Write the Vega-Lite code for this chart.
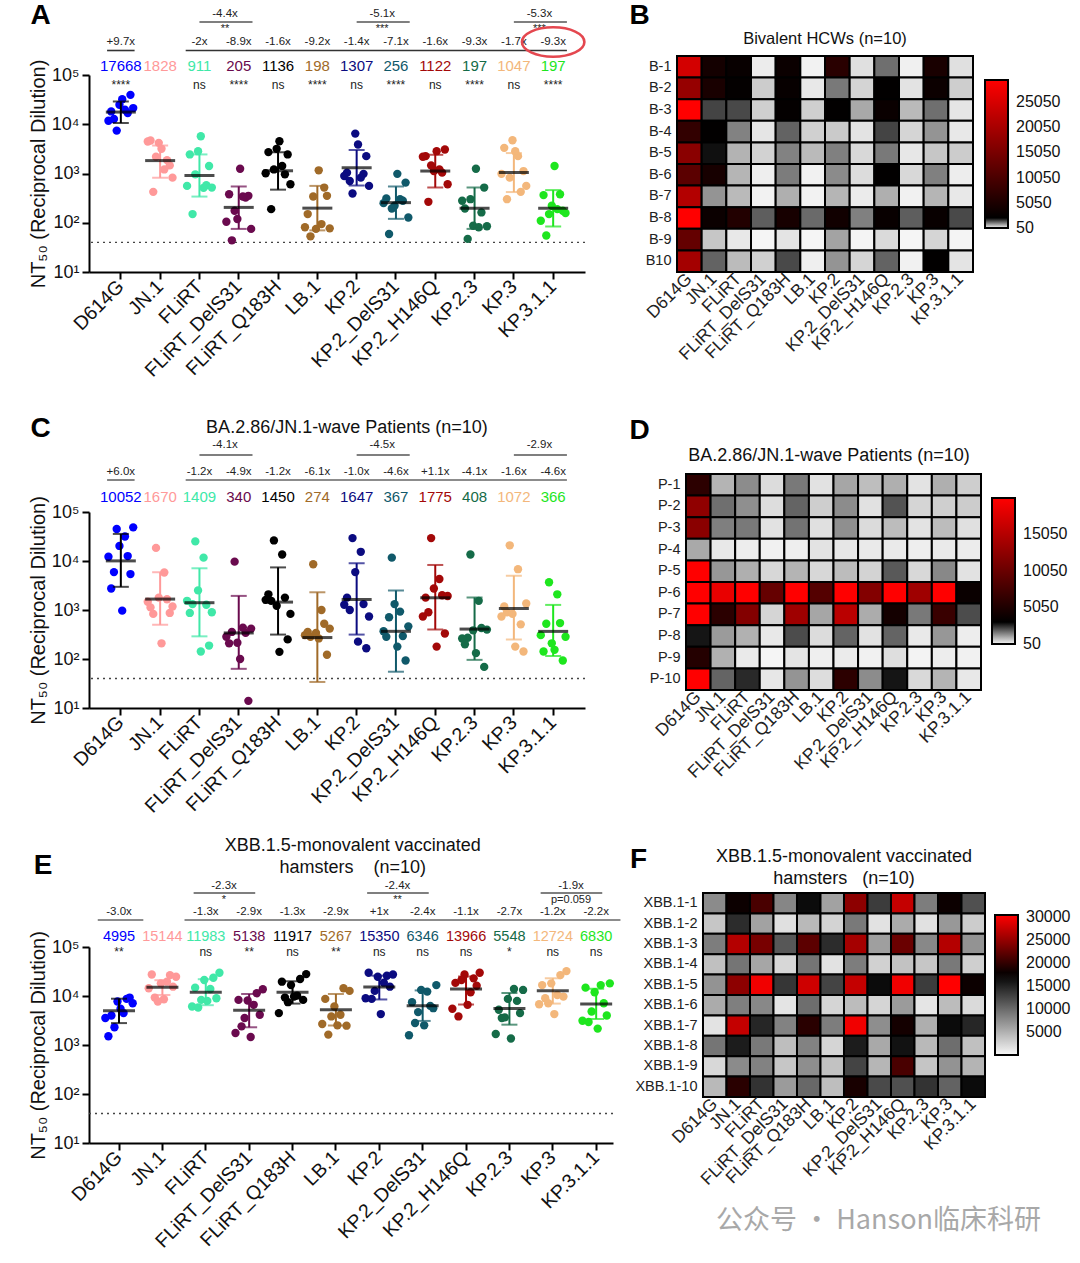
{
"$schema": "https://vega.github.io/schema/vega-lite/v6.json",
"background": "white",
"padding": {"left": 28, "top": 2, "right": 0, "bottom": 0},
"config": {"font": "Liberation Sans", "view": {"stroke": null}, "title": {"font": "Liberation Sans", "fontWeight": "normal", "color": "#111"}, "text": {"font": "Liberation Sans"}},
"datasets": {
"A": [
{"s":"B-1","v":"D614G","nt":24800},{"s":"B-2","v":"D614G","nt":18200},{"s":"B-3","v":"D614G","nt":39500},{"s":"B-4","v":"D614G","nt":7430},{"s":"B-5","v":"D614G","nt":16900},{"s":"B-6","v":"D614G","nt":11800},{"s":"B-7","v":"D614G","nt":21300},{"s":"B-8","v":"D614G","nt":32300},{"s":"B-9","v":"D614G","nt":12800},{"s":"B10","v":"D614G","nt":19700},
{"s":"B-1","v":"JN.1","nt":4190},{"s":"B-2","v":"JN.1","nt":4670},{"s":"B-3","v":"JN.1","nt":1460},{"s":"B-4","v":"JN.1","nt":2190},{"s":"B-5","v":"JN.1","nt":1870},{"s":"B-6","v":"JN.1","nt":4460},{"s":"B-7","v":"JN.1","nt":824},{"s":"B-8","v":"JN.1","nt":3170},{"s":"B-9","v":"JN.1","nt":424},{"s":"B10","v":"JN.1","nt":1210},
{"s":"B-1","v":"FLiRT","nt":2840},{"s":"B-2","v":"FLiRT","nt":2440},{"s":"B-3","v":"FLiRT","nt":1420},{"s":"B-4","v":"FLiRT","nt":962},{"s":"B-5","v":"FLiRT","nt":577},{"s":"B-6","v":"FLiRT","nt":560},{"s":"B-7","v":"FLiRT","nt":518},{"s":"B-8","v":"FLiRT","nt":5700},{"s":"B-9","v":"FLiRT","nt":150},{"s":"B10","v":"FLiRT","nt":512},
{"s":"B-1","v":"FLiRT_DelS31","nt":119},{"s":"B-2","v":"FLiRT_DelS31","nt":380},{"s":"B-3","v":"FLiRT_DelS31","nt":352},{"s":"B-4","v":"FLiRT_DelS31","nt":175},{"s":"B-5","v":"FLiRT_DelS31","nt":326},{"s":"B-6","v":"FLiRT_DelS31","nt":105},{"s":"B-7","v":"FLiRT_DelS31","nt":75},{"s":"B-8","v":"FLiRT_DelS31","nt":1250},{"s":"B-9","v":"FLiRT_DelS31","nt":44},{"s":"B10","v":"FLiRT_DelS31","nt":341},
{"s":"B-1","v":"FLiRT_Q183H","nt":3170},{"s":"B-2","v":"FLiRT_Q183H","nt":2720},{"s":"B-3","v":"FLiRT_Q183H","nt":2440},{"s":"B-4","v":"FLiRT_Q183H","nt":1210},{"s":"B-5","v":"FLiRT_Q183H","nt":962},{"s":"B-6","v":"FLiRT_Q183H","nt":1010},{"s":"B-7","v":"FLiRT_Q183H","nt":605},{"s":"B-8","v":"FLiRT_Q183H","nt":4520},{"s":"B-9","v":"FLiRT_Q183H","nt":189},{"s":"B10","v":"FLiRT_Q183H","nt":1420},
{"s":"B-1","v":"LB.1","nt":75},{"s":"B-2","v":"LB.1","nt":150},{"s":"B-3","v":"LB.1","nt":352},{"s":"B-4","v":"LB.1","nt":341},{"s":"B-5","v":"LB.1","nt":518},{"s":"B-6","v":"LB.1","nt":81},{"s":"B-7","v":"LB.1","nt":77},{"s":"B-8","v":"LB.1","nt":1160},{"s":"B-9","v":"LB.1","nt":53},{"s":"B10","v":"LB.1","nt":94},
{"s":"B-1","v":"KP.2","nt":6460},{"s":"B-2","v":"KP.2","nt":1040},{"s":"B-3","v":"KP.2","nt":2250},{"s":"B-4","v":"KP.2","nt":392},{"s":"B-5","v":"KP.2","nt":983},{"s":"B-6","v":"KP.2","nt":891},{"s":"B-7","v":"KP.2","nt":560},{"s":"B-8","v":"KP.2","nt":3870},{"s":"B-9","v":"KP.2","nt":706},{"s":"B10","v":"KP.2","nt":824},
{"s":"B-1","v":"KP.2_DelS31","nt":221},{"s":"B-2","v":"KP.2_DelS31","nt":310},{"s":"B-3","v":"KP.2_DelS31","nt":653},{"s":"B-4","v":"KP.2_DelS31","nt":195},{"s":"B-5","v":"KP.2_DelS31","nt":279},{"s":"B-6","v":"KP.2_DelS31","nt":250},{"s":"B-7","v":"KP.2_DelS31","nt":128},{"s":"B-8","v":"KP.2_DelS31","nt":983},{"s":"B-9","v":"KP.2_DelS31","nt":59},{"s":"B10","v":"KP.2_DelS31","nt":301},
{"s":"B-1","v":"KP.2_H146Q","nt":1120},{"s":"B-2","v":"KP.2_H146Q","nt":2250},{"s":"B-3","v":"KP.2_H146Q","nt":3070},{"s":"B-4","v":"KP.2_H146Q","nt":1460},{"s":"B-5","v":"KP.2_H146Q","nt":1040},{"s":"B-6","v":"KP.2_H146Q","nt":2190},{"s":"B-7","v":"KP.2_H146Q","nt":605},{"s":"B-8","v":"KP.2_H146Q","nt":2840},{"s":"B-9","v":"KP.2_H146Q","nt":266},{"s":"B10","v":"KP.2_H146Q","nt":1210},
{"s":"B-1","v":"KP.2.3","nt":87},{"s":"B-2","v":"KP.2.3","nt":195},{"s":"B-3","v":"KP.2.3","nt":518},{"s":"B-4","v":"KP.2.3","nt":301},{"s":"B-5","v":"KP.2.3","nt":162},{"s":"B-6","v":"KP.2.3","nt":279},{"s":"B-7","v":"KP.2.3","nt":85},{"s":"B-8","v":"KP.2.3","nt":1250},{"s":"B-9","v":"KP.2.3","nt":47},{"s":"B10","v":"KP.2.3","nt":81},
{"s":"B-1","v":"KP.3","nt":4740},{"s":"B-2","v":"KP.3","nt":3320},{"s":"B-3","v":"KP.3","nt":1120},{"s":"B-4","v":"KP.3","nt":824},{"s":"B-5","v":"KP.3","nt":424},{"s":"B-6","v":"KP.3","nt":983},{"s":"B-7","v":"KP.3","nt":560},{"s":"B-8","v":"KP.3","nt":2840},{"s":"B-9","v":"KP.3","nt":301},{"s":"B10","v":"KP.3","nt":2250},
{"s":"B-1","v":"KP.3.1.1","nt":221},{"s":"B-2","v":"KP.3.1.1","nt":364},{"s":"B-3","v":"KP.3.1.1","nt":175},{"s":"B-4","v":"KP.3.1.1","nt":150},{"s":"B-5","v":"KP.3.1.1","nt":380},{"s":"B-6","v":"KP.3.1.1","nt":110},{"s":"B-7","v":"KP.3.1.1","nt":157},{"s":"B-8","v":"KP.3.1.1","nt":1420},{"s":"B-9","v":"KP.3.1.1","nt":55},{"s":"B10","v":"KP.3.1.1","nt":189}
],
"C": [
{"s":"P-1","v":"D614G","nt":5940},{"s":"P-2","v":"D614G","nt":12600},{"s":"P-3","v":"D614G","nt":12200},{"s":"P-4","v":"D614G","nt":970},{"s":"P-5","v":"D614G","nt":48600},{"s":"P-6","v":"D614G","nt":45000},{"s":"P-7","v":"D614G","nt":31600},{"s":"P-8","v":"D614G","nt":2750},{"s":"P-9","v":"D614G","nt":5410},{"s":"P-10","v":"D614G","nt":20300},
{"s":"P-1","v":"JN.1","nt":832},{"s":"P-2","v":"JN.1","nt":1660},{"s":"P-3","v":"JN.1","nt":1470},{"s":"P-4","v":"JN.1","nt":209},{"s":"P-5","v":"JN.1","nt":1180},{"s":"P-6","v":"JN.1","nt":18500},{"s":"P-7","v":"JN.1","nt":5840},{"s":"P-8","v":"JN.1","nt":1130},{"s":"P-9","v":"JN.1","nt":871},{"s":"P-10","v":"JN.1","nt":1790},
{"s":"P-1","v":"FLiRT","nt":1320},{"s":"P-2","v":"FLiRT","nt":1280},{"s":"P-3","v":"FLiRT","nt":1540},{"s":"P-4","v":"FLiRT","nt":142},{"s":"P-5","v":"FLiRT","nt":898},{"s":"P-6","v":"FLiRT","nt":25100},{"s":"P-7","v":"FLiRT","nt":11700},{"s":"P-8","v":"FLiRT","nt":871},{"s":"P-9","v":"FLiRT","nt":188},{"s":"P-10","v":"FLiRT","nt":2510},
{"s":"P-1","v":"FLiRT_DelS31","nt":357},{"s":"P-2","v":"FLiRT_DelS31","nt":341},{"s":"P-3","v":"FLiRT_DelS31","nt":284},{"s":"P-4","v":"FLiRT_DelS31","nt":100},{"s":"P-5","v":"FLiRT_DelS31","nt":417},{"s":"P-6","v":"FLiRT_DelS31","nt":9700},{"s":"P-7","v":"FLiRT_DelS31","nt":437},{"s":"P-8","v":"FLiRT_DelS31","nt":209},{"s":"P-9","v":"FLiRT_DelS31","nt":14},{"s":"P-10","v":"FLiRT_DelS31","nt":215},
{"s":"P-1","v":"FLiRT_Q183H","nt":1540},{"s":"P-2","v":"FLiRT_Q183H","nt":1790},{"s":"P-3","v":"FLiRT_Q183H","nt":1610},{"s":"P-4","v":"FLiRT_Q183H","nt":140},{"s":"P-5","v":"FLiRT_Q183H","nt":832},{"s":"P-6","v":"FLiRT_Q183H","nt":26300},{"s":"P-7","v":"FLiRT_Q183H","nt":13600},{"s":"P-8","v":"FLiRT_Q183H","nt":2090},{"s":"P-9","v":"FLiRT_Q183H","nt":251},{"s":"P-10","v":"FLiRT_Q183H","nt":1220},
{"s":"P-1","v":"LB.1","nt":284},{"s":"P-2","v":"LB.1","nt":525},{"s":"P-3","v":"LB.1","nt":307},{"s":"P-4","v":"LB.1","nt":263},{"s":"P-5","v":"LB.1","nt":417},{"s":"P-6","v":"LB.1","nt":8580},{"s":"P-7","v":"LB.1","nt":1000},{"s":"P-8","v":"LB.1","nt":357},{"s":"P-9","v":"LB.1","nt":122},{"s":"P-10","v":"LB.1","nt":341},
{"s":"P-1","v":"KP.2","nt":1000},{"s":"P-2","v":"KP.2","nt":1320},{"s":"P-3","v":"KP.2","nt":1280},{"s":"P-4","v":"KP.2","nt":226},{"s":"P-5","v":"KP.2","nt":736},{"s":"P-6","v":"KP.2","nt":29300},{"s":"P-7","v":"KP.2","nt":15400},{"s":"P-8","v":"KP.2","nt":1790},{"s":"P-9","v":"KP.2","nt":166},{"s":"P-10","v":"KP.2","nt":5940},
{"s":"P-1","v":"KP.2_DelS31","nt":713},{"s":"P-2","v":"KP.2_DelS31","nt":293},{"s":"P-3","v":"KP.2_DelS31","nt":369},{"s":"P-4","v":"KP.2_DelS31","nt":179},{"s":"P-5","v":"KP.2_DelS31","nt":464},{"s":"P-6","v":"KP.2_DelS31","nt":11700},{"s":"P-7","v":"KP.2_DelS31","nt":927},{"s":"P-8","v":"KP.2_DelS31","nt":284},{"s":"P-9","v":"KP.2_DelS31","nt":93},{"s":"P-10","v":"KP.2_DelS31","nt":1320},
{"s":"P-1","v":"KP.2_H146Q","nt":898},{"s":"P-2","v":"KP.2_H146Q","nt":2000},{"s":"P-3","v":"KP.2_H146Q","nt":736},{"s":"P-4","v":"KP.2_H146Q","nt":179},{"s":"P-5","v":"KP.2_H146Q","nt":1930},{"s":"P-6","v":"KP.2_H146Q","nt":29300},{"s":"P-7","v":"KP.2_H146Q","nt":4300},{"s":"P-8","v":"KP.2_H146Q","nt":1790},{"s":"P-9","v":"KP.2_H146Q","nt":331},{"s":"P-10","v":"KP.2_H146Q","nt":2750},
{"s":"P-1","v":"KP.2.3","nt":271},{"s":"P-2","v":"KP.2.3","nt":430},{"s":"P-3","v":"KP.2.3","nt":263},{"s":"P-4","v":"KP.2.3","nt":132},{"s":"P-5","v":"KP.2.3","nt":398},{"s":"P-6","v":"KP.2.3","nt":13600},{"s":"P-7","v":"KP.2.3","nt":1540},{"s":"P-8","v":"KP.2.3","nt":200},{"s":"P-9","v":"KP.2.3","nt":69},{"s":"P-10","v":"KP.2.3","nt":385},
{"s":"P-1","v":"KP.3","nt":898},{"s":"P-2","v":"KP.3","nt":509},{"s":"P-3","v":"KP.3","nt":736},{"s":"P-4","v":"KP.3","nt":179},{"s":"P-5","v":"KP.3","nt":1360},{"s":"P-6","v":"KP.3","nt":20900},{"s":"P-7","v":"KP.3","nt":6810},{"s":"P-8","v":"KP.3","nt":1180},{"s":"P-9","v":"KP.3","nt":142},{"s":"P-10","v":"KP.3","nt":832},
{"s":"P-1","v":"KP.3.1.1","nt":525},{"s":"P-2","v":"KP.3.1.1","nt":541},{"s":"P-3","v":"KP.3.1.1","nt":307},{"s":"P-4","v":"KP.3.1.1","nt":154},{"s":"P-5","v":"KP.3.1.1","nt":284},{"s":"P-6","v":"KP.3.1.1","nt":3690},{"s":"P-7","v":"KP.3.1.1","nt":2090},{"s":"P-8","v":"KP.3.1.1","nt":142},{"s":"P-9","v":"KP.3.1.1","nt":93},{"s":"P-10","v":"KP.3.1.1","nt":209}
],
"E": [
{"s":"XBB.1-1","v":"D614G","nt":7710},{"s":"XBB.1-2","v":"D614G","nt":3550},{"s":"XBB.1-3","v":"D614G","nt":8730},{"s":"XBB.1-4","v":"D614G","nt":4010},{"s":"XBB.1-5","v":"D614G","nt":7130},{"s":"XBB.1-6","v":"D614G","nt":5480},{"s":"XBB.1-7","v":"D614G","nt":1510},{"s":"XBB.1-8","v":"D614G","nt":9290},{"s":"XBB.1-9","v":"D614G","nt":2300},{"s":"XBB.1-10","v":"D614G","nt":4480},
{"s":"XBB.1-1","v":"JN.1","nt":18100},{"s":"XBB.1-2","v":"JN.1","nt":14400},{"s":"XBB.1-3","v":"JN.1","nt":26700},{"s":"XBB.1-4","v":"JN.1","nt":9290},{"s":"XBB.1-5","v":"JN.1","nt":24700},{"s":"XBB.1-6","v":"JN.1","nt":8590},{"s":"XBB.1-7","v":"JN.1","nt":27500},{"s":"XBB.1-8","v":"JN.1","nt":15500},{"s":"XBB.1-9","v":"JN.1","nt":7710},{"s":"XBB.1-10","v":"JN.1","nt":19600},
{"s":"XBB.1-1","v":"FLiRT","nt":21200},{"s":"XBB.1-2","v":"FLiRT","nt":6110},{"s":"XBB.1-3","v":"FLiRT","nt":23600},{"s":"XBB.1-4","v":"FLiRT","nt":5830},{"s":"XBB.1-5","v":"FLiRT","nt":29800},{"s":"XBB.1-6","v":"FLiRT","nt":7950},{"s":"XBB.1-7","v":"FLiRT","nt":14800},{"s":"XBB.1-8","v":"FLiRT","nt":9000},{"s":"XBB.1-9","v":"FLiRT","nt":8330},{"s":"XBB.1-10","v":"FLiRT","nt":13900},
{"s":"XBB.1-1","v":"FLiRT_DelS31","nt":8080},{"s":"XBB.1-2","v":"FLiRT_DelS31","nt":1760},{"s":"XBB.1-3","v":"FLiRT_DelS31","nt":11400},{"s":"XBB.1-4","v":"FLiRT_DelS31","nt":2400},{"s":"XBB.1-5","v":"FLiRT_DelS31","nt":13700},{"s":"XBB.1-6","v":"FLiRT_DelS31","nt":1460},{"s":"XBB.1-7","v":"FLiRT_DelS31","nt":8330},{"s":"XBB.1-8","v":"FLiRT_DelS31","nt":4140},{"s":"XBB.1-9","v":"FLiRT_DelS31","nt":3550},{"s":"XBB.1-10","v":"FLiRT_DelS31","nt":6610},
{"s":"XBB.1-1","v":"FLiRT_Q183H","nt":16700},{"s":"XBB.1-2","v":"FLiRT_Q183H","nt":4480},{"s":"XBB.1-3","v":"FLiRT_Q183H","nt":22200},{"s":"XBB.1-4","v":"FLiRT_Q183H","nt":9290},{"s":"XBB.1-5","v":"FLiRT_Q183H","nt":28000},{"s":"XBB.1-6","v":"FLiRT_Q183H","nt":9730},{"s":"XBB.1-7","v":"FLiRT_Q183H","nt":19600},{"s":"XBB.1-8","v":"FLiRT_Q183H","nt":8330},{"s":"XBB.1-9","v":"FLiRT_Q183H","nt":7480},{"s":"XBB.1-10","v":"FLiRT_Q183H","nt":10200},
{"s":"XBB.1-1","v":"LB.1","nt":6110},{"s":"XBB.1-2","v":"LB.1","nt":2680},{"s":"XBB.1-3","v":"LB.1","nt":14400},{"s":"XBB.1-4","v":"LB.1","nt":1630},{"s":"XBB.1-5","v":"LB.1","nt":12700},{"s":"XBB.1-6","v":"LB.1","nt":2520},{"s":"XBB.1-7","v":"LB.1","nt":8730},{"s":"XBB.1-8","v":"LB.1","nt":2480},{"s":"XBB.1-9","v":"LB.1","nt":3830},{"s":"XBB.1-10","v":"LB.1","nt":4140},
{"s":"XBB.1-1","v":"KP.2","nt":24700},{"s":"XBB.1-2","v":"KP.2","nt":9000},{"s":"XBB.1-3","v":"KP.2","nt":25900},{"s":"XBB.1-4","v":"KP.2","nt":8730},{"s":"XBB.1-5","v":"KP.2","nt":27500},{"s":"XBB.1-6","v":"KP.2","nt":4280},{"s":"XBB.1-7","v":"KP.2","nt":29800},{"s":"XBB.1-8","v":"KP.2","nt":15500},{"s":"XBB.1-9","v":"KP.2","nt":12700},{"s":"XBB.1-10","v":"KP.2","nt":18700},
{"s":"XBB.1-1","v":"KP.2_DelS31","nt":13300},{"s":"XBB.1-2","v":"KP.2_DelS31","nt":1580},{"s":"XBB.1-3","v":"KP.2_DelS31","nt":6290},{"s":"XBB.1-4","v":"KP.2_DelS31","nt":2810},{"s":"XBB.1-5","v":"KP.2_DelS31","nt":16700},{"s":"XBB.1-6","v":"KP.2_DelS31","nt":2520},{"s":"XBB.1-7","v":"KP.2_DelS31","nt":7480},{"s":"XBB.1-8","v":"KP.2_DelS31","nt":5640},{"s":"XBB.1-9","v":"KP.2_DelS31","nt":4690},{"s":"XBB.1-10","v":"KP.2_DelS31","nt":12300},
{"s":"XBB.1-1","v":"KP.2_H146Q","nt":27500},{"s":"XBB.1-2","v":"KP.2_H146Q","nt":5480},{"s":"XBB.1-3","v":"KP.2_H146Q","nt":22900},{"s":"XBB.1-4","v":"KP.2_H146Q","nt":3830},{"s":"XBB.1-5","v":"KP.2_H146Q","nt":29800},{"s":"XBB.1-6","v":"KP.2_H146Q","nt":6610},{"s":"XBB.1-7","v":"KP.2_H146Q","nt":18500},{"s":"XBB.1-8","v":"KP.2_H146Q","nt":16200},{"s":"XBB.1-9","v":"KP.2_H146Q","nt":21200},{"s":"XBB.1-10","v":"KP.2_H146Q","nt":11900},
{"s":"XBB.1-1","v":"KP.2.3","nt":8730},{"s":"XBB.1-2","v":"KP.2.3","nt":1680},{"s":"XBB.1-3","v":"KP.2.3","nt":7950},{"s":"XBB.1-4","v":"KP.2.3","nt":3550},{"s":"XBB.1-5","v":"KP.2.3","nt":13300},{"s":"XBB.1-6","v":"KP.2.3","nt":1360},{"s":"XBB.1-7","v":"KP.2.3","nt":5230},{"s":"XBB.1-8","v":"KP.2.3","nt":4480},{"s":"XBB.1-9","v":"KP.2.3","nt":3660},{"s":"XBB.1-10","v":"KP.2.3","nt":13900},
{"s":"XBB.1-1","v":"KP.3","nt":18100},{"s":"XBB.1-2","v":"KP.3","nt":6800},{"s":"XBB.1-3","v":"KP.3","nt":26700},{"s":"XBB.1-4","v":"KP.3","nt":9000},{"s":"XBB.1-5","v":"KP.3","nt":32200},{"s":"XBB.1-6","v":"KP.3","nt":4280},{"s":"XBB.1-7","v":"KP.3","nt":16700},{"s":"XBB.1-8","v":"KP.3","nt":9730},{"s":"XBB.1-9","v":"KP.3","nt":7130},{"s":"XBB.1-10","v":"KP.3","nt":10500},
{"s":"XBB.1-1","v":"KP.3.1.1","nt":11900},{"s":"XBB.1-2","v":"KP.3.1.1","nt":3130},{"s":"XBB.1-3","v":"KP.3.1.1","nt":7130},{"s":"XBB.1-4","v":"KP.3.1.1","nt":2950},{"s":"XBB.1-5","v":"KP.3.1.1","nt":18100},{"s":"XBB.1-6","v":"KP.3.1.1","nt":2160},{"s":"XBB.1-7","v":"KP.3.1.1","nt":14800},{"s":"XBB.1-8","v":"KP.3.1.1","nt":4010},{"s":"XBB.1-9","v":"KP.3.1.1","nt":4840},{"s":"XBB.1-10","v":"KP.3.1.1","nt":16700}
],
"sumA": [
{"v":"D614G","gmt":17668,"lo":10600,"hi":29000,"fold":"+9.7x","sig":"****"},
{"v":"JN.1","gmt":1828,"lo":820,"hi":3700,"fold":"","sig":""},
{"v":"FLiRT","gmt":911,"lo":340,"hi":2440,"fold":"-2x","sig":"ns"},
{"v":"FLiRT_DelS31","gmt":205,"lo":75,"hi":545,"fold":"-8.9x","sig":"****"},
{"v":"FLiRT_Q183H","gmt":1136,"lo":470,"hi":2700,"fold":"-1.6x","sig":"ns"},
{"v":"LB.1","gmt":198,"lo":70,"hi":560,"fold":"-9.2x","sig":"****"},
{"v":"KP.2","gmt":1307,"lo":570,"hi":3000,"fold":"-1.4x","sig":"ns"},
{"v":"KP.2_DelS31","gmt":256,"lo":120,"hi":545,"fold":"-7.1x","sig":"****"},
{"v":"KP.2_H146Q","gmt":1122,"lo":520,"hi":2400,"fold":"-1.6x","sig":"ns"},
{"v":"KP.2.3","gmt":197,"lo":75,"hi":520,"fold":"-9.3x","sig":"****"},
{"v":"KP.3","gmt":1047,"lo":420,"hi":2600,"fold":"-1.7x","sig":"ns"},
{"v":"KP.3.1.1","gmt":197,"lo":84,"hi":460,"fold":"-9.3x","sig":"****"}
],
"sumC": [
{"v":"D614G","gmt":10052,"lo":2970,"hi":35700,"fold":"+6.0x"},
{"v":"JN.1","gmt":1670,"lo":500,"hi":5900,"fold":""},
{"v":"FLiRT","gmt":1409,"lo":290,"hi":7100,"fold":"-1.2x"},
{"v":"FLiRT_DelS31","gmt":340,"lo":63,"hi":1940,"fold":"-4.9x"},
{"v":"FLiRT_Q183H","gmt":1450,"lo":315,"hi":7400,"fold":"-1.2x"},
{"v":"LB.1","gmt":274,"lo":34,"hi":2300,"fold":"-6.1x"},
{"v":"KP.2","gmt":1647,"lo":315,"hi":9000,"fold":"-1.0x"},
{"v":"KP.2_DelS31","gmt":367,"lo":55,"hi":2500,"fold":"-4.6x"},
{"v":"KP.2_H146Q","gmt":1775,"lo":400,"hi":8300,"fold":"+1.1x"},
{"v":"KP.2.3","gmt":408,"lo":96,"hi":1800,"fold":"-4.1x"},
{"v":"KP.3","gmt":1072,"lo":250,"hi":5000,"fold":"-1.6x"},
{"v":"KP.3.1.1","gmt":366,"lo":115,"hi":1270,"fold":"-4.6x"}
],
"sumE": [
{"v":"D614G","gmt":4995,"lo":2800,"hi":8800,"fold":"-3.0x","sig":"**"},
{"v":"JN.1","gmt":15144,"lo":10500,"hi":21000,"fold":"","sig":""},
{"v":"FLiRT","gmt":11983,"lo":6500,"hi":22000,"fold":"-1.3x","sig":"ns"},
{"v":"FLiRT_DelS31","gmt":5138,"lo":2300,"hi":11000,"fold":"-2.9x","sig":"**"},
{"v":"FLiRT_Q183H","gmt":11917,"lo":7000,"hi":20000,"fold":"-1.3x","sig":"ns"},
{"v":"LB.1","gmt":5267,"lo":2500,"hi":11000,"fold":"-2.9x","sig":"**"},
{"v":"KP.2","gmt":15350,"lo":8500,"hi":26000,"fold":"+1x","sig":"ns"},
{"v":"KP.2_DelS31","gmt":6346,"lo":3100,"hi":13000,"fold":"-2.4x","sig":"ns"},
{"v":"KP.2_H146Q","gmt":13966,"lo":6700,"hi":25000,"fold":"-1.1x","sig":"ns"},
{"v":"KP.2.3","gmt":5548,"lo":2600,"hi":11500,"fold":"-2.7x","sig":"*"},
{"v":"KP.3","gmt":12724,"lo":7000,"hi":23000,"fold":"-1.2x","sig":"ns"},
{"v":"KP.3.1.1","gmt":6830,"lo":3400,"hi":14000,"fold":"-2.2x","sig":"ns"}
],
"pairsA": [{"from":"FLiRT","to":"FLiRT_DelS31","label":"-4.4x","sig":"**"},{"from":"KP.2","to":"KP.2_DelS31","label":"-5.1x","sig":"***"},{"from":"KP.3","to":"KP.3.1.1","label":"-5.3x","sig":"***"}],
"pairsC": [{"from":"FLiRT","to":"FLiRT_DelS31","label":"-4.1x"},{"from":"KP.2","to":"KP.2_DelS31","label":"-4.5x"},{"from":"KP.3","to":"KP.3.1.1","label":"-2.9x"}],
"pairsE": [{"from":"FLiRT","to":"FLiRT_DelS31","label":"-2.3x","sig":"*"},{"from":"KP.2","to":"KP.2_DelS31","label":"-2.4x","sig":"**"},{"from":"KP.3","to":"KP.3.1.1","label":"-1.9x","sig":"p=0.059"}],
"spans": [{"from":"D614G","to":"D614G"},{"from":"FLiRT","to":"KP.3.1.1"}],
"lod": [{"lod":40}],
"blank": [{"k":""}]
},
"resolve": {"scale": {"color": "independent", "x": "independent", "y": "independent", "xOffset": "independent"}, "legend": {"color": "independent"}},
"spacing": 7,
"hconcat": [
{"vconcat": [
 {"vconcat": [
  {"width": 496, "height": 73,
   "title": {"text": "A", "orient": "left", "angle": 0, "anchor": "end", "align": "right", "baseline": "top", "fontSize": 28, "fontWeight": "bold", "color": "black", "offset": 18},
   "layer": [
    {"data": {"name": "pairsA"}, "mark": {"type": "text", "fontSize": 11.5, "color": "#222"},
     "encoding": {"x": {"field": "to", "type": "nominal", "bandPosition": 0, "scale": {"domain": ["D614G","JN.1","FLiRT","FLiRT_DelS31","FLiRT_Q183H","LB.1","KP.2","KP.2_DelS31","KP.2_H146Q","KP.2.3","KP.3","KP.3.1.1"], "paddingInner": 0.3, "paddingOuter": 0.46}, "axis": null},
      "y": {"datum": 2.4, "type": "quantitative", "scale": {"domain": [0, 14.6], "reverse": true, "nice": false, "zero": false}, "axis": null}, "text": {"field": "label", "type": "nominal"}}},
    {"data": {"name": "pairsA"}, "mark": {"type": "rule", "color": "#555", "strokeWidth": 1.4},
     "encoding": {"x": {"field": "from", "type": "nominal", "bandPosition": 0.5, "axis": null}, "x2": {"field": "to", "bandPosition": 1},
      "y": {"datum": 4, "type": "quantitative", "axis": null}}},
    {"data": {"name": "pairsA"}, "mark": {"type": "text", "fontSize": 11, "color": "#222"},
     "encoding": {"x": {"field": "to", "type": "nominal", "bandPosition": 0, "axis": null}, "y": {"datum": 5.4, "type": "quantitative", "axis": null}, "text": {"field": "sig", "type": "nominal"}}},
    {"data": {"name": "sumA"}, "mark": {"type": "text", "fontSize": 11.5, "color": "#222"},
     "encoding": {"x": {"field": "v", "type": "nominal", "axis": null}, "y": {"datum": 8, "type": "quantitative", "axis": null}, "text": {"field": "fold", "type": "nominal"}}},
    {"data": {"name": "spans"}, "mark": {"type": "rule", "color": "#333", "strokeWidth": 1.6},
     "encoding": {"x": {"field": "from", "type": "nominal", "bandPosition": 0, "axis": null}, "x2": {"field": "to", "bandPosition": 1}, "y": {"datum": 9.7, "type": "quantitative", "axis": null}}},
    {"data": {"name": "sumA"}, "mark": {"type": "text", "fontSize": 15},
     "encoding": {"x": {"field": "v", "type": "nominal", "axis": null}, "y": {"datum": 12.8, "type": "quantitative", "axis": null}, "text": {"field": "gmt", "type": "nominal"},
      "color": {"field": "v", "type": "nominal", "legend": null, "scale": {"domain": ["D614G","JN.1","FLiRT","FLiRT_DelS31","FLiRT_Q183H","LB.1","KP.2","KP.2_DelS31","KP.2_H146Q","KP.2.3","KP.3","KP.3.1.1"], "range": ["#0000ff","#ff9999","#40e8a8","#6a0a4e","#000000","#a06a28","#0b0b80","#10596a","#a30808","#156b48","#f3b77b","#1ee61e"]}}}},
    {"data": {"name": "sumA"}, "transform": [{"filter": "datum.v === 'KP.3.1.1'"}],
     "mark": {"type": "point", "shape": "M -1 0 A 1 0.47 0 1 0 1 0 A 1 0.47 0 1 0 -1 0 Z", "size": 3900, "filled": false, "stroke": "#e4474f", "strokeWidth": 2.6, "opacity": 1},
     "encoding": {"x": {"field": "v", "type": "nominal", "axis": null}, "y": {"datum": 8, "type": "quantitative", "axis": null}}}
   ]},
  {"width": 496, "height": 197,
   "layer": [
    {"data": {"name": "lod"}, "mark": {"type": "rule", "strokeDash": [2, 4], "color": "#444", "strokeWidth": 1.3},
     "encoding": {"y": {"field": "lod", "type": "quantitative", "scale": {"type": "log", "domain": [10, 100000], "nice": false}}}},
    {"data": {"name": "A"}, "mark": {"type": "circle", "size": 70, "opacity": 1},
     "encoding": {
      "x": {"field": "v", "type": "nominal", "scale": {"domain": ["D614G","JN.1","FLiRT","FLiRT_DelS31","FLiRT_Q183H","LB.1","KP.2","KP.2_DelS31","KP.2_H146Q","KP.2.3","KP.3","KP.3.1.1"], "paddingInner": 0.3, "paddingOuter": 0.46},
       "axis": {"title": null, "labelAngle": -45, "labelAlign": "right", "labelBaseline": "middle", "labelFontSize": 19.5, "labelColor": "#111", "domainColor": "#000", "domainWidth": 2, "tickColor": "#000", "tickWidth": 2, "tickSize": 7, "labelPadding": 4}},
      "xOffset": {"field": "s", "type": "nominal", "scale": {"domain": ["B-6","B-2","B-9","B-4","B-1","B-8","B10","B-5","B-3","B-7"]}},
      "y": {"field": "nt", "type": "quantitative", "scale": {"type": "log", "domain": [10, 100000], "nice": false},
       "axis": {"title": "NT₅₀ (Reciprocal Dilution)", "titleFontSize": 20, "titleFontWeight": "normal", "titleColor": "#111", "values": [10, 100, 1000, 10000, 100000], "labelExpr": "datum.value < 50 ? '10¹' : datum.value < 500 ? '10²' : datum.value < 5000 ? '10³' : datum.value < 50000 ? '10⁴' : '10⁵'", "labelFontSize": 18, "labelColor": "#111", "grid": false, "domainColor": "#000", "domainWidth": 2, "tickColor": "#000", "tickWidth": 2, "tickSize": 7, "titlePadding": 3, "labelPadding": 3}},
      "color": {"field": "v", "type": "nominal", "legend": null, "scale": {"domain": ["D614G","JN.1","FLiRT","FLiRT_DelS31","FLiRT_Q183H","LB.1","KP.2","KP.2_DelS31","KP.2_H146Q","KP.2.3","KP.3","KP.3.1.1"], "range": ["#0000ff","#ff9999","#40e8a8","#6a0a4e","#000000","#a06a28","#0b0b80","#10596a","#a30808","#156b48","#f3b77b","#1ee61e"]}}}},
    {"data": {"name": "sumA"}, "mark": {"type": "rule", "strokeWidth": 2},
     "encoding": {"x": {"field": "v", "type": "nominal"}, "y": {"field": "lo", "type": "quantitative"}, "y2": {"field": "hi"},
      "color": {"condition": {"test": "datum.v === 'D614G'", "value": "#000"}, "field": "v", "type": "nominal", "legend": null}}},
    {"data": {"name": "sumA"}, "mark": {"type": "tick", "thickness": 2, "size": 16},
     "encoding": {"x": {"field": "v", "type": "nominal"}, "y": {"field": "lo", "type": "quantitative"},
      "color": {"condition": {"test": "datum.v === 'D614G'", "value": "#000"}, "field": "v", "type": "nominal", "legend": null}}},
    {"data": {"name": "sumA"}, "mark": {"type": "tick", "thickness": 2, "size": 16},
     "encoding": {"x": {"field": "v", "type": "nominal"}, "y": {"field": "hi", "type": "quantitative"},
      "color": {"condition": {"test": "datum.v === 'D614G'", "value": "#000"}, "field": "v", "type": "nominal", "legend": null}}},
    {"data": {"name": "sumA"}, "mark": {"type": "tick", "thickness": 3, "size": 30, "color": "#000"},
     "encoding": {"x": {"field": "v", "type": "nominal"}, "y": {"field": "gmt", "type": "quantitative"}}},
    {"data": {"name": "sumA"}, "mark": {"type": "text", "fontSize": 12, "color": "#222"},
     "encoding": {"x": {"field": "v", "type": "nominal"}, "y": {"datum": 63000, "type": "quantitative"}, "text": {"field": "sig", "type": "nominal"}}}
   ]}
 ], "spacing": 0, "bounds": "flush", "resolve": {"scale": {"color": "independent", "x": "independent", "y": "independent"}}},

 {"vconcat": [
  {"width": 496, "height": 75,
   "title": {"text": "C", "orient": "left", "angle": 0, "anchor": "end", "align": "right", "baseline": "top", "fontSize": 28, "fontWeight": "bold", "color": "black", "offset": 18, "dy": -22},
   "layer": [
    {"data": {"name": "pairsC"}, "mark": {"type": "text", "fontSize": 11.5, "color": "#222"},
     "encoding": {"x": {"field": "to", "type": "nominal", "bandPosition": 0, "scale": {"domain": ["D614G","JN.1","FLiRT","FLiRT_DelS31","FLiRT_Q183H","LB.1","KP.2","KP.2_DelS31","KP.2_H146Q","KP.2.3","KP.3","KP.3.1.1"], "paddingInner": 0.3, "paddingOuter": 0.46}, "axis": null},
      "y": {"datum": 1.6, "type": "quantitative", "scale": {"domain": [0, 15], "reverse": true, "nice": false, "zero": false}, "axis": null}, "text": {"field": "label", "type": "nominal"}}},
    {"data": {"name": "pairsC"}, "mark": {"type": "rule", "color": "#555", "strokeWidth": 1.4},
     "encoding": {"x": {"field": "from", "type": "nominal", "bandPosition": 0.5, "axis": null}, "x2": {"field": "to", "bandPosition": 1},
      "y": {"datum": 3.6, "type": "quantitative", "axis": null}}},
    {"data": {"name": "sumC"}, "mark": {"type": "text", "fontSize": 11.5, "color": "#222"},
     "encoding": {"x": {"field": "v", "type": "nominal", "axis": null}, "y": {"datum": 7, "type": "quantitative", "axis": null}, "text": {"field": "fold", "type": "nominal"}}},
    {"data": {"name": "spans"}, "mark": {"type": "rule", "color": "#666", "strokeWidth": 1.6},
     "encoding": {"x": {"field": "from", "type": "nominal", "bandPosition": 0, "axis": null}, "x2": {"field": "to", "bandPosition": 1}, "y": {"datum": 8.6, "type": "quantitative", "axis": null}}},
    {"data": {"name": "sumC"}, "mark": {"type": "text", "fontSize": 15},
     "encoding": {"x": {"field": "v", "type": "nominal", "axis": null}, "y": {"datum": 12, "type": "quantitative", "axis": null}, "text": {"field": "gmt", "type": "nominal"},
      "color": {"field": "v", "type": "nominal", "legend": null, "scale": {"domain": ["D614G","JN.1","FLiRT","FLiRT_DelS31","FLiRT_Q183H","LB.1","KP.2","KP.2_DelS31","KP.2_H146Q","KP.2.3","KP.3","KP.3.1.1"], "range": ["#0000ff","#ff9999","#40e8a8","#6a0a4e","#000000","#a06a28","#0b0b80","#10596a","#a30808","#156b48","#f3b77b","#1ee61e"]}}}}
   ]},
  {"width": 496, "height": 196,
   "layer": [
    {"data": {"name": "lod"}, "mark": {"type": "rule", "strokeDash": [2, 4], "color": "#444", "strokeWidth": 1.3},
     "encoding": {"y": {"field": "lod", "type": "quantitative", "scale": {"type": "log", "domain": [10, 100000], "nice": false}}}},
    {"data": {"name": "C"}, "mark": {"type": "circle", "size": 70, "opacity": 1},
     "encoding": {
      "x": {"field": "v", "type": "nominal", "scale": {"domain": ["D614G","JN.1","FLiRT","FLiRT_DelS31","FLiRT_Q183H","LB.1","KP.2","KP.2_DelS31","KP.2_H146Q","KP.2.3","KP.3","KP.3.1.1"], "paddingInner": 0.3, "paddingOuter": 0.46},
       "axis": {"title": null, "labelAngle": -45, "labelAlign": "right", "labelBaseline": "middle", "labelFontSize": 19.5, "labelColor": "#111", "domainColor": "#000", "domainWidth": 2, "tickColor": "#000", "tickWidth": 2, "tickSize": 7, "labelPadding": 4}},
      "xOffset": {"field": "s", "type": "nominal", "scale": {"domain": ["P-3","P-8","P-1","P-6","P-10","P-4","P-7","P-2","P-9","P-5"]}},
      "y": {"field": "nt", "type": "quantitative", "scale": {"type": "log", "domain": [10, 100000], "nice": false},
       "axis": {"title": "NT₅₀ (Reciprocal Dilution)", "titleFontSize": 20, "titleFontWeight": "normal", "titleColor": "#111", "values": [10, 100, 1000, 10000, 100000], "labelExpr": "datum.value < 50 ? '10¹' : datum.value < 500 ? '10²' : datum.value < 5000 ? '10³' : datum.value < 50000 ? '10⁴' : '10⁵'", "labelFontSize": 18, "labelColor": "#111", "grid": false, "domainColor": "#000", "domainWidth": 2, "tickColor": "#000", "tickWidth": 2, "tickSize": 7, "titlePadding": 3, "labelPadding": 3}},
      "color": {"field": "v", "type": "nominal", "legend": null, "scale": {"domain": ["D614G","JN.1","FLiRT","FLiRT_DelS31","FLiRT_Q183H","LB.1","KP.2","KP.2_DelS31","KP.2_H146Q","KP.2.3","KP.3","KP.3.1.1"], "range": ["#0000ff","#ff9999","#40e8a8","#6a0a4e","#000000","#a06a28","#0b0b80","#10596a","#a30808","#156b48","#f3b77b","#1ee61e"]}}}},
    {"data": {"name": "sumC"}, "mark": {"type": "rule", "strokeWidth": 2},
     "encoding": {"x": {"field": "v", "type": "nominal"}, "y": {"field": "lo", "type": "quantitative"}, "y2": {"field": "hi"},
      "color": {"condition": {"test": "datum.v === 'D614G'", "value": "#000"}, "field": "v", "type": "nominal", "legend": null}}},
    {"data": {"name": "sumC"}, "mark": {"type": "tick", "thickness": 2, "size": 16},
     "encoding": {"x": {"field": "v", "type": "nominal"}, "y": {"field": "lo", "type": "quantitative"},
      "color": {"condition": {"test": "datum.v === 'D614G'", "value": "#000"}, "field": "v", "type": "nominal", "legend": null}}},
    {"data": {"name": "sumC"}, "mark": {"type": "tick", "thickness": 2, "size": 16},
     "encoding": {"x": {"field": "v", "type": "nominal"}, "y": {"field": "hi", "type": "quantitative"},
      "color": {"condition": {"test": "datum.v === 'D614G'", "value": "#000"}, "field": "v", "type": "nominal", "legend": null}}},
    {"data": {"name": "sumC"}, "mark": {"type": "tick", "thickness": 3, "size": 30, "color": "#000"},
     "encoding": {"x": {"field": "v", "type": "nominal"}, "y": {"field": "gmt", "type": "quantitative"}}}
   ]}
 ], "spacing": 0, "bounds": "flush", "title": {"text": ["", "BA.2.86/JN.1-wave Patients (n=10)"], "fontSize": 18, "lineHeight": 18, "anchor": "middle", "offset": -22, "dx": 40}, "resolve": {"scale": {"color": "independent", "x": "independent", "y": "independent"}}},

 {"vconcat": [
  {"width": 524, "height": 70,
   "title": {"text": "E", "orient": "left", "angle": 0, "anchor": "end", "align": "right", "baseline": "top", "fontSize": 28, "fontWeight": "bold", "color": "black", "offset": 18, "dy": -25},
   "layer": [
    {"data": {"name": "pairsE"}, "mark": {"type": "text", "fontSize": 11.5, "color": "#222"},
     "encoding": {"x": {"field": "from", "type": "nominal", "bandPosition": 1.1, "scale": {"domain": ["D614G","JN.1","FLiRT","FLiRT_DelS31","FLiRT_Q183H","LB.1","KP.2","KP.2_DelS31","KP.2_H146Q","KP.2.3","KP.3","KP.3.1.1"], "paddingInner": 0.3, "paddingOuter": 0.19, "align": 0.9}, "axis": null},
      "y": {"datum": 1.8, "type": "quantitative", "scale": {"domain": [0, 14], "reverse": true, "nice": false, "zero": false}, "axis": null}, "text": {"field": "label", "type": "nominal"}}},
    {"data": {"name": "pairsE"}, "mark": {"type": "rule", "color": "#555", "strokeWidth": 1.4},
     "encoding": {"x": {"field": "from", "type": "nominal", "bandPosition": 0.1, "axis": null}, "x2": {"field": "to", "bandPosition": 0.7},
      "y": {"datum": 3.2, "type": "quantitative", "axis": null}}},
    {"data": {"name": "pairsE"}, "mark": {"type": "text", "fontSize": 11, "color": "#222"},
     "encoding": {"x": {"field": "from", "type": "nominal", "bandPosition": 1.1, "axis": null}, "y": {"datum": 4.5, "type": "quantitative", "axis": null}, "text": {"field": "sig", "type": "nominal"}}},
    {"data": {"name": "sumE"}, "mark": {"type": "text", "fontSize": 11.5, "color": "#222"},
     "encoding": {"x": {"field": "v", "type": "nominal", "axis": null}, "y": {"datum": 7, "type": "quantitative", "axis": null}, "text": {"field": "fold", "type": "nominal"}}},
    {"data": {"name": "spans"}, "mark": {"type": "rule", "color": "#666", "strokeWidth": 1.6},
     "encoding": {"x": {"field": "from", "type": "nominal", "bandPosition": -0.2, "axis": null}, "x2": {"field": "to", "bandPosition": 1.3}, "y": {"datum": 8.6, "type": "quantitative", "axis": null}}},
    {"data": {"name": "sumE"}, "mark": {"type": "text", "fontSize": 14.5},
     "encoding": {"x": {"field": "v", "type": "nominal", "axis": null}, "y": {"datum": 12, "type": "quantitative", "axis": null}, "text": {"field": "gmt", "type": "nominal"},
      "color": {"field": "v", "type": "nominal", "legend": null, "scale": {"domain": ["D614G","JN.1","FLiRT","FLiRT_DelS31","FLiRT_Q183H","LB.1","KP.2","KP.2_DelS31","KP.2_H146Q","KP.2.3","KP.3","KP.3.1.1"], "range": ["#0000ff","#ff9999","#40e8a8","#6a0a4e","#000000","#a06a28","#0b0b80","#10596a","#a30808","#156b48","#f3b77b","#1ee61e"]}}}}
   ]},
  {"width": 524, "height": 196,
   "layer": [
    {"data": {"name": "lod"}, "mark": {"type": "rule", "strokeDash": [2, 4], "color": "#444", "strokeWidth": 1.3},
     "encoding": {"y": {"field": "lod", "type": "quantitative", "scale": {"type": "log", "domain": [10, 100000], "nice": false}}}},
    {"data": {"name": "E"}, "mark": {"type": "circle", "size": 70, "opacity": 1},
     "encoding": {
      "x": {"field": "v", "type": "nominal", "scale": {"domain": ["D614G","JN.1","FLiRT","FLiRT_DelS31","FLiRT_Q183H","LB.1","KP.2","KP.2_DelS31","KP.2_H146Q","KP.2.3","KP.3","KP.3.1.1"], "paddingInner": 0.3, "paddingOuter": 0.19, "align": 0.9},
       "axis": {"title": null, "labelAngle": -45, "labelAlign": "right", "labelBaseline": "middle", "labelFontSize": 19.5, "labelColor": "#111", "domainColor": "#000", "domainWidth": 2, "tickColor": "#000", "tickWidth": 2, "tickSize": 7, "labelPadding": 4}},
      "xOffset": {"field": "s", "type": "nominal", "scale": {"domain": ["XBB.1-2","XBB.1-7","XBB.1-4","XBB.1-9","XBB.1-1","XBB.1-6","XBB.1-10","XBB.1-3","XBB.1-8","XBB.1-5"]}},
      "y": {"field": "nt", "type": "quantitative", "scale": {"type": "log", "domain": [10, 100000], "nice": false},
       "axis": {"title": "NT₅₀ (Reciprocal Dilution)", "titleFontSize": 20, "titleFontWeight": "normal", "titleColor": "#111", "values": [10, 100, 1000, 10000, 100000], "labelExpr": "datum.value < 50 ? '10¹' : datum.value < 500 ? '10²' : datum.value < 5000 ? '10³' : datum.value < 50000 ? '10⁴' : '10⁵'", "labelFontSize": 18, "labelColor": "#111", "grid": false, "domainColor": "#000", "domainWidth": 2, "tickColor": "#000", "tickWidth": 2, "tickSize": 7, "titlePadding": 3, "labelPadding": 3}},
      "color": {"field": "v", "type": "nominal", "legend": null, "scale": {"domain": ["D614G","JN.1","FLiRT","FLiRT_DelS31","FLiRT_Q183H","LB.1","KP.2","KP.2_DelS31","KP.2_H146Q","KP.2.3","KP.3","KP.3.1.1"], "range": ["#0000ff","#ff9999","#40e8a8","#6a0a4e","#000000","#a06a28","#0b0b80","#10596a","#a30808","#156b48","#f3b77b","#1ee61e"]}}}},
    {"data": {"name": "sumE"}, "mark": {"type": "rule", "strokeWidth": 2},
     "encoding": {"x": {"field": "v", "type": "nominal"}, "y": {"field": "lo", "type": "quantitative"}, "y2": {"field": "hi"},
      "color": {"condition": {"test": "datum.v === 'D614G'", "value": "#000"}, "field": "v", "type": "nominal", "legend": null}}},
    {"data": {"name": "sumE"}, "mark": {"type": "tick", "thickness": 2, "size": 16},
     "encoding": {"x": {"field": "v", "type": "nominal"}, "y": {"field": "lo", "type": "quantitative"},
      "color": {"condition": {"test": "datum.v === 'D614G'", "value": "#000"}, "field": "v", "type": "nominal", "legend": null}}},
    {"data": {"name": "sumE"}, "mark": {"type": "tick", "thickness": 2, "size": 16},
     "encoding": {"x": {"field": "v", "type": "nominal"}, "y": {"field": "hi", "type": "quantitative"},
      "color": {"condition": {"test": "datum.v === 'D614G'", "value": "#000"}, "field": "v", "type": "nominal", "legend": null}}},
    {"data": {"name": "sumE"}, "mark": {"type": "tick", "thickness": 3, "size": 32, "color": "#000"},
     "encoding": {"x": {"field": "v", "type": "nominal"}, "y": {"field": "gmt", "type": "quantitative"}}},
    {"data": {"name": "sumE"}, "mark": {"type": "text", "fontSize": 12, "color": "#222"},
     "encoding": {"x": {"field": "v", "type": "nominal"}, "y": {"datum": 78000, "type": "quantitative"}, "text": {"field": "sig", "type": "nominal"}}}
   ]}
 ], "spacing": 0, "bounds": "flush", "title": {"text": ["XBB.1.5-monovalent vaccinated", "hamsters\u00a0\u00a0\u00a0\u00a0(n=10)"], "fontSize": 18, "lineHeight": 22, "anchor": "middle", "offset": -25, "dx": 28}, "resolve": {"scale": {"color": "independent", "x": "independent", "y": "independent"}}}
], "spacing": 21, "resolve": {"scale": {"color": "independent", "x": "independent", "y": "independent", "xOffset": "independent"}, "legend": {"color": "independent"}}},

{"concat": [
 {"vconcat": [
  {"data": {"name": "blank"}, "width": 296, "height": 28, "mark": {"type": "text"}, "encoding": {"text": {"field": "k", "type": "nominal"}},
   "title": {"text": "B", "orient": "left", "angle": 0, "anchor": "end", "align": "right", "baseline": "top", "fontSize": 28, "fontWeight": "bold", "color": "black", "offset": 7}},
  {"data": {"name": "A"}, "width": 296, "height": 216,
   "title": {"text": "Bivalent HCWs (n=10)", "fontSize": 16.5, "offset": 8},
   "mark": {"type": "rect", "stroke": "#000", "strokeWidth": 2, "width": {"band": 1}, "height": {"band": 1}},
   "encoding": {
    "x": {"field": "v", "type": "nominal", "scale": {"type": "band", "domain": ["D614G","JN.1","FLiRT","FLiRT_DelS31","FLiRT_Q183H","LB.1","KP.2","KP.2_DelS31","KP.2_H146Q","KP.2.3","KP.3","KP.3.1.1"], "paddingInner": 0, "paddingOuter": 0},
     "axis": {"title": null, "labelAngle": -45, "labelAlign": "right", "labelBaseline": "middle", "labelFontSize": 17.5, "labelColor": "#222", "ticks": false, "domain": false, "labelPadding": 4}},
    "y": {"field": "s", "type": "nominal", "scale": {"type": "band", "domain": ["B-1","B-2","B-3","B-4","B-5","B-6","B-7","B-8","B-9","B10"], "paddingInner": 0, "paddingOuter": 0},
     "axis": {"title": null, "labelFontSize": 14.5, "labelColor": "#222", "ticks": false, "domain": false, "labelPadding": 6}},
    "color": {"field": "nt", "type": "quantitative", "scale": {"domain": [0, 50, 2000, 29500], "range": ["#f5f5f5", "#f5f5f5", "#000000", "#ff0000"], "interpolate": "rgb", "nice": false, "zero": false},
     "legend": {"title": null, "orient": "none", "legendX": 308, "legendY": 24, "gradientLength": 148, "gradientThickness": 23, "gradientStrokeColor": "#000", "gradientStrokeWidth": 2, "labelFontSize": 16, "labelColor": "#111", "labelOffset": 8, "labelOverlap": false, "labelBaseline": "middle", "format": "d", "values": [50, 5050, 10050, 15050, 20050, 25050]}}
   }}
 ], "spacing": 0, "resolve": {"scale": {"x": "independent", "y": "independent", "color": "independent"}}},
 {"vconcat": [
  {"data": {"name": "blank"}, "width": 304, "height": 30, "mark": {"type": "text"}, "encoding": {"text": {"field": "k", "type": "nominal"}},
   "title": {"text": "D", "orient": "left", "angle": 0, "anchor": "end", "align": "right", "baseline": "top", "fontSize": 28, "fontWeight": "bold", "color": "black", "offset": 7}},
  {"data": {"name": "C"}, "width": 304, "height": 216,
   "title": {"text": "BA.2.86/JN.1-wave Patients (n=10)", "fontSize": 18, "offset": 8},
   "mark": {"type": "rect", "stroke": "#000", "strokeWidth": 2, "width": {"band": 1}, "height": {"band": 1}},
   "encoding": {
    "x": {"field": "v", "type": "nominal", "scale": {"type": "band", "domain": ["D614G","JN.1","FLiRT","FLiRT_DelS31","FLiRT_Q183H","LB.1","KP.2","KP.2_DelS31","KP.2_H146Q","KP.2.3","KP.3","KP.3.1.1"], "paddingInner": 0, "paddingOuter": 0.183, "align": 1},
     "axis": {"title": null, "labelAngle": -45, "labelAlign": "right", "labelBaseline": "middle", "labelFontSize": 17.5, "labelColor": "#222", "ticks": false, "domain": false, "labelPadding": 4}},
    "y": {"field": "s", "type": "nominal", "scale": {"type": "band", "domain": ["P-1","P-2","P-3","P-4","P-5","P-6","P-7","P-8","P-9","P-10"], "paddingInner": 0, "paddingOuter": 0},
     "axis": {"title": null, "labelFontSize": 14.5, "labelColor": "#222", "ticks": false, "domain": false, "labelPadding": 6, "offset": -9}},
    "color": {"field": "nt", "type": "quantitative", "scale": {"domain": [0, 50, 3000, 20000], "range": ["#f5f5f5", "#f5f5f5", "#000000", "#ff0000"], "interpolate": "rgb", "nice": false, "zero": false},
     "legend": {"title": null, "orient": "none", "legendX": 315, "legendY": 24, "gradientLength": 146, "gradientThickness": 23, "gradientStrokeColor": "#000", "gradientStrokeWidth": 2, "labelFontSize": 16, "labelColor": "#111", "labelOffset": 8, "labelOverlap": false, "labelBaseline": "middle", "format": "d", "values": [50, 5050, 10050, 15050]}}
   }}
 ], "spacing": 0, "resolve": {"scale": {"x": "independent", "y": "independent", "color": "independent"}}},
 {"vconcat": [
  {"data": {"name": "blank"}, "width": 308, "height": 13, "mark": {"type": "text"}, "encoding": {"text": {"field": "k", "type": "nominal"}}},
  {"data": {"name": "E"}, "width": 308, "height": 204,
   "title": {"text": ["XBB.1.5-monovalent vaccinated", "hamsters\u00a0\u00a0\u00a0(n=10)"], "fontSize": 18, "lineHeight": 22, "offset": 4, "dx": 13},
   "mark": {"type": "rect", "stroke": "#000", "strokeWidth": 2, "width": {"band": 1}, "height": {"band": 1}},
   "encoding": {
    "x": {"field": "v", "type": "nominal", "scale": {"type": "band", "domain": ["D614G","JN.1","FLiRT","FLiRT_DelS31","FLiRT_Q183H","LB.1","KP.2","KP.2_DelS31","KP.2_H146Q","KP.2.3","KP.3","KP.3.1.1"], "paddingInner": 0, "paddingOuter": 0.553, "align": 1},
     "axis": {"title": null, "labelAngle": -45, "labelAlign": "right", "labelBaseline": "middle", "labelFontSize": 17.5, "labelColor": "#222", "ticks": false, "domain": false, "labelPadding": 4}},
    "y": {"field": "s", "type": "nominal", "scale": {"type": "band", "domain": ["XBB.1-1","XBB.1-2","XBB.1-3","XBB.1-4","XBB.1-5","XBB.1-6","XBB.1-7","XBB.1-8","XBB.1-9","XBB.1-10"], "paddingInner": 0, "paddingOuter": 0},
     "axis": {"title": null, "labelFontSize": 14.5, "labelColor": "#222", "ticks": false, "domain": false, "labelPadding": 6, "offset": -26}},
    "color": {"field": "nt", "type": "quantitative", "scale": {"domain": [50, 17500, 30500], "range": ["#f8f8f8", "#000000", "#ff0000"], "interpolate": "rgb", "nice": false, "zero": false},
     "legend": {"title": null, "orient": "none", "legendX": 318, "legendY": 22, "gradientLength": 140, "gradientThickness": 23, "gradientStrokeColor": "#000", "gradientStrokeWidth": 2, "labelFontSize": 16, "labelColor": "#111", "labelOffset": 8, "labelOverlap": false, "labelBaseline": "middle", "format": "d", "values": [5000, 10000, 15000, 20000, 25000, 30000]}}
   }}
 ], "spacing": 0, "title": {"text": "F", "anchor": "start", "fontSize": 28, "fontWeight": "bold", "color": "black", "offset": -39, "dx": -5}, "resolve": {"scale": {"x": "independent", "y": "independent", "color": "independent"}}}
], "columns": 1, "align": "none", "spacing": 54,
 "title": {"text": "公众号 · Hanson临床科研", "orient": "bottom", "anchor": "end", "fontSize": 27, "font": "Noto Sans CJK SC", "color": "#a8a8a8", "offset": 20, "dx": -30},
 "resolve": {"scale": {"x": "independent", "y": "independent", "color": "independent"}, "legend": {"color": "independent"}}}
]
}
